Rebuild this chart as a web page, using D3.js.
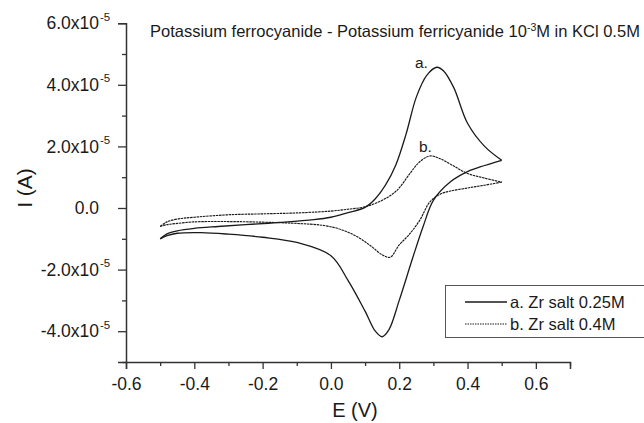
<!DOCTYPE html>
<html lang="en">
<head>
<meta charset="UTF-8" />
<title>CV</title>
<script src="https://d3js.org/d3.v7.min.js"></script>
<style>
  body { margin: 0; background: #fff; }
  text { font-family: "Liberation Sans", Arial, sans-serif; fill: #1a1a1a; }
</style>
</head>
<body>
<script>
// currents in units of 1e-5 A, potentials in V
var aFwdE = [-0.5, -0.48, -0.45, -0.4, -0.33, -0.25, -0.15, -0.05, 0.0, 0.05, 0.1, 0.13, 0.16, 0.19, 0.22, 0.25, 0.28, 0.31, 0.33, 0.36, 0.4, 0.45, 0.5];
var aFwdI = [-1.0, -0.84, -0.74, -0.66, -0.6, -0.54, -0.47, -0.38, -0.3, -0.15, 0.02, 0.3, 0.75, 1.4, 2.4, 3.6, 4.3, 4.57, 4.45, 3.9, 2.75, 2.0, 1.55];
var aRevE = [0.5, 0.45, 0.4, 0.35, 0.3, 0.27, 0.24, 0.2, 0.17, 0.15, 0.13, 0.1, 0.05, 0.0, -0.1, -0.2, -0.3, -0.38, -0.45, -0.48, -0.5];
var aRevI = [1.55, 1.38, 1.18, 0.85, 0.25, -0.6, -1.6, -3.0, -3.95, -4.18, -4.0, -3.35, -2.35, -1.55, -1.12, -0.95, -0.85, -0.8, -0.82, -0.9, -1.0];

var bFwdE = [-0.5, -0.48, -0.45, -0.4, -0.3, -0.2, -0.1, 0.0, 0.05, 0.1, 0.15, 0.18, 0.2, 0.23, 0.26, 0.29, 0.32, 0.36, 0.4, 0.45, 0.5];
var bFwdI = [-0.6, -0.45, -0.36, -0.3, -0.22, -0.19, -0.16, -0.1, -0.04, 0.04, 0.25, 0.45, 0.65, 1.1, 1.5, 1.69, 1.6, 1.36, 1.12, 0.97, 0.84];
var bRevE = [0.5, 0.45, 0.4, 0.35, 0.32, 0.29, 0.26, 0.23, 0.2, 0.173, 0.15, 0.12, 0.08, 0.03, -0.02, -0.1, -0.2, -0.3, -0.4, -0.45, -0.48, -0.5];
var bRevI = [0.84, 0.74, 0.65, 0.55, 0.45, 0.2, -0.4, -0.85, -1.2, -1.6, -1.52, -1.26, -0.95, -0.7, -0.57, -0.5, -0.46, -0.44, -0.45, -0.5, -0.54, -0.6];

var xMajor = [-0.6, -0.4, -0.2, 0, 0.2, 0.4, 0.6];
var xMinor = [-0.5, -0.3, -0.1, 0.1, 0.3, 0.5, 0.7];
var yMajor = [-4, -2, 0, 2, 4, 6];
var yMinor = [-5, -3, -1, 1, 3, 5];

var legendLabels = ["a. Zr salt 0.25M", "b. Zr salt 0.4M"];
var peakLabels = ["a.", "b."];
var title = "Potassium ferrocyanide - Potassium ferricyanide 10";

var W = 644, H = 423;
var x = d3.scaleLinear().domain([-0.6, 0.7]).range([126, 570]);
var y = d3.scaleLinear().domain([-5, 6]).range([362, 23.2]);

var svg = d3.select("body").append("svg")
  .attr("width", W).attr("height", H);
svg.append("rect").attr("width", W).attr("height", H).attr("fill", "#fff");

function zip(es, is) { return es.map((e, i) => ({ e: e, i: is[i] })); }

var line = d3.line()
  .x(d => x(d.e))
  .y(d => y(d.i))
  .curve(d3.curveCatmullRom);

var curves = [
  { pts: [zip(aFwdE, aFwdI), zip(aRevE, aRevI)], dash: null, w: 1.3 },
  { pts: [zip(bFwdE, bFwdI), zip(bRevE, bRevI)], dash: "2.5,0.7", w: 1.15 }
];
curves.forEach(c => {
  c.pts.forEach(p => {
    svg.append("path").datum(p)
      .attr("fill", "none")
      .attr("stroke", "#1a1a1a")
      .attr("stroke-width", c.w)
      .attr("stroke-dasharray", c.dash)
      .attr("d", line);
  });
});

// axes
var axColor = "#333";
var gx = svg.append("g").attr("transform", "translate(0," + y(-5) + ")")
  .call(d3.axisBottom(x).tickValues(xMajor).tickSize(7).tickPadding(9)
    .tickFormat(d => d.toFixed(1)));
svg.append("g").attr("transform", "translate(0," + y(-5) + ")")
  .call(d3.axisBottom(x).tickValues(xMinor).tickSize(4).tickFormat(""))
  .select(".domain").remove();
gx.selectAll("text").attr("font-size", 17.5).attr("fill", "#1a1a1a");

var gy = svg.append("g").attr("transform", "translate(" + x(-0.6) + ",0)")
  .call(d3.axisLeft(y).tickValues(yMajor).tickSize(8).tickPadding(19)
    .tickFormat(d => d === 0 ? "0.0" : d.toFixed(1) + "x10"));
svg.append("g").attr("transform", "translate(" + x(-0.6) + ",0)")
  .call(d3.axisLeft(y).tickValues(yMinor).tickSize(4).tickFormat(""))
  .select(".domain").remove();
gy.selectAll("text").attr("font-size", 17.5).attr("fill", "#1a1a1a");
gy.selectAll(".tick").filter(d => d !== 0).append("text")
  .attr("x", -26).attr("dy", "-0.25em")
  .attr("text-anchor", "start")
  .attr("font-size", 11.5)
  .attr("fill", "#1a1a1a")
  .text("-5");

svg.selectAll(".domain").attr("stroke", axColor).attr("stroke-width", 1.5);
svg.selectAll(".tick line").attr("stroke", axColor).attr("stroke-width", 1.3);

// axis titles
svg.append("text").attr("x", 355).attr("y", 417)
  .attr("text-anchor", "middle").attr("font-size", 20).text("E (V)");
svg.append("text").attr("transform", "translate(32,188) rotate(-90)")
  .attr("text-anchor", "middle").attr("font-size", 21).text("I (A)");

// title
var t = svg.append("text").attr("x", 150).attr("y", 37).attr("font-size", 16.5);
t.append("tspan").text(title);
t.append("tspan").attr("font-size", 10.5).attr("dy", -6).text("-3");
t.append("tspan").attr("dy", 6).text("M in KCl 0.5M");

// peak labels
svg.append("text").attr("x", 415).attr("y", 68).attr("font-size", 15.5).text(peakLabels[0]);
svg.append("text").attr("x", 419).attr("y", 152).attr("font-size", 15.5).text(peakLabels[1]);

// legend
var lg = svg.append("g");
lg.append("rect").attr("x", 445.5).attr("y", 285.5).attr("width", 200).attr("height", 52)
  .attr("fill", "#fff").attr("stroke", "#555").attr("stroke-width", 1);
legendLabels.forEach((l, i) => {
  var ly = 302 + i * 22;
  lg.append("line").attr("x1", 465).attr("x2", 507).attr("y1", ly).attr("y2", ly)
    .attr("stroke", "#1a1a1a").attr("stroke-width", i === 0 ? 1.3 : 1.1)
    .attr("stroke-dasharray", i === 0 ? null : "1.5,1");
  lg.append("text").attr("x", 510).attr("y", ly + 5.5).attr("font-size", 16.5).text(l);
});
</script>
</body>
</html>
